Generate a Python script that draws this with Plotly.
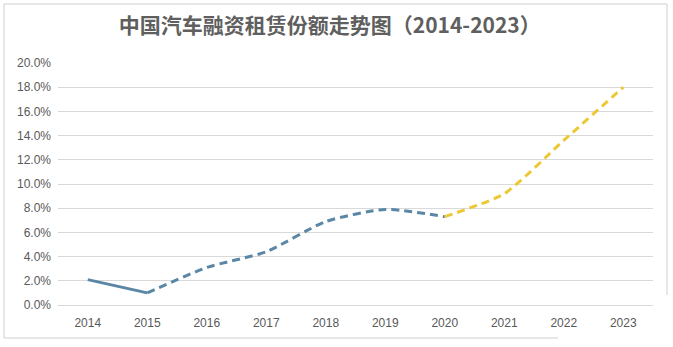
import plotly.graph_objects as go

years = ["2014", "2015", "2016", "2017", "2018", "2019", "2020", "2021", "2022", "2023"]
share = [2.1, 1.0, 3.1, 4.4, 6.9, 7.9, 7.3, 9.2, 13.6, 18.0]
y_ticks = [0, 2, 4, 6, 8, 10, 12, 14, 16, 18, 20]
y_tick_text = [f"{v:.1f}%" for v in y_ticks]

blue = "#5b87a6"
yellow = "#ecc934"

fig = go.Figure()
# solid 2014-2015
fig.add_trace(go.Scatter(x=years[0:2], y=share[0:2], mode="lines",
                         line=dict(color=blue, width=3), hoverinfo="skip"))
# dashed blue 2015-2020
fig.add_trace(go.Scatter(x=years[1:7], y=share[1:7], mode="lines",
                         line=dict(color=blue, width=3, dash="8px,5px", shape="spline", smoothing=0.6),
                         hoverinfo="skip"))
# dashed yellow 2020-2023
fig.add_trace(go.Scatter(x=years[6:10], y=share[6:10], mode="lines",
                         line=dict(color=yellow, width=3, dash="8px,5px", shape="spline", smoothing=0.6),
                         hoverinfo="skip"))

fig.update_layout(
    width=673, height=347,
    margin=dict(l=58, r=20, t=63, b=42),
    paper_bgcolor="white", plot_bgcolor="white",
    showlegend=False,
    font=dict(family="Noto Sans CJK SC, sans-serif", color="#595959"),
    title=dict(text="<b>中国汽车融资租赁份额走势图（2014-2023）</b>",
               x=0.49, xanchor="center", y=0.925, yanchor="middle",
               font=dict(size=21, color="#5f5f5f")),
    xaxis=dict(type="category", range=[-0.5, 9.5], showgrid=False, zeroline=False, showline=False,
               ticks="", tickfont=dict(size=12, color="#595959", family="Liberation Sans, Arial"),
               ticklabelstandoff=9),
    yaxis=dict(range=[0, 20], tickvals=y_ticks, ticktext=y_tick_text,
               showgrid=True, gridcolor="#d9d9d9", gridwidth=1,
               zeroline=True, zerolinecolor="#d9d9d9", zerolinewidth=1,
               showline=False, ticks="",
               tickfont=dict(size=12, color="#595959", family="Liberation Sans, Arial"),
               ticklabelstandoff=6),
    shapes=[
        dict(type="line", xref="paper", yref="paper", x0=-54/595, x1=(667-58)/595,
             y0=1 + 59/242, y1=1 + 59/242, line=dict(color="#d0d0d0", width=1)),
        dict(type="line", xref="paper", yref="paper", x0=-54/595, x1=-54/595,
             y0=1 + 59/242, y1=-33/242, line=dict(color="#d0d0d0", width=1)),
        dict(type="line", xref="paper", yref="paper", x0=-54/595, x1=(558-58)/595,
             y0=-33/242, y1=-33/242, line=dict(color="#d0d0d0", width=1)),
        dict(type="line", xref="paper", yref="paper", x0=(667-58)/595, x1=(667-58)/595,
             y0=1 + 59/242, y1=(305-295)/242, line=dict(color="#d0d0d0", width=1)),
    ],
)

fig.write_html("out.html")
